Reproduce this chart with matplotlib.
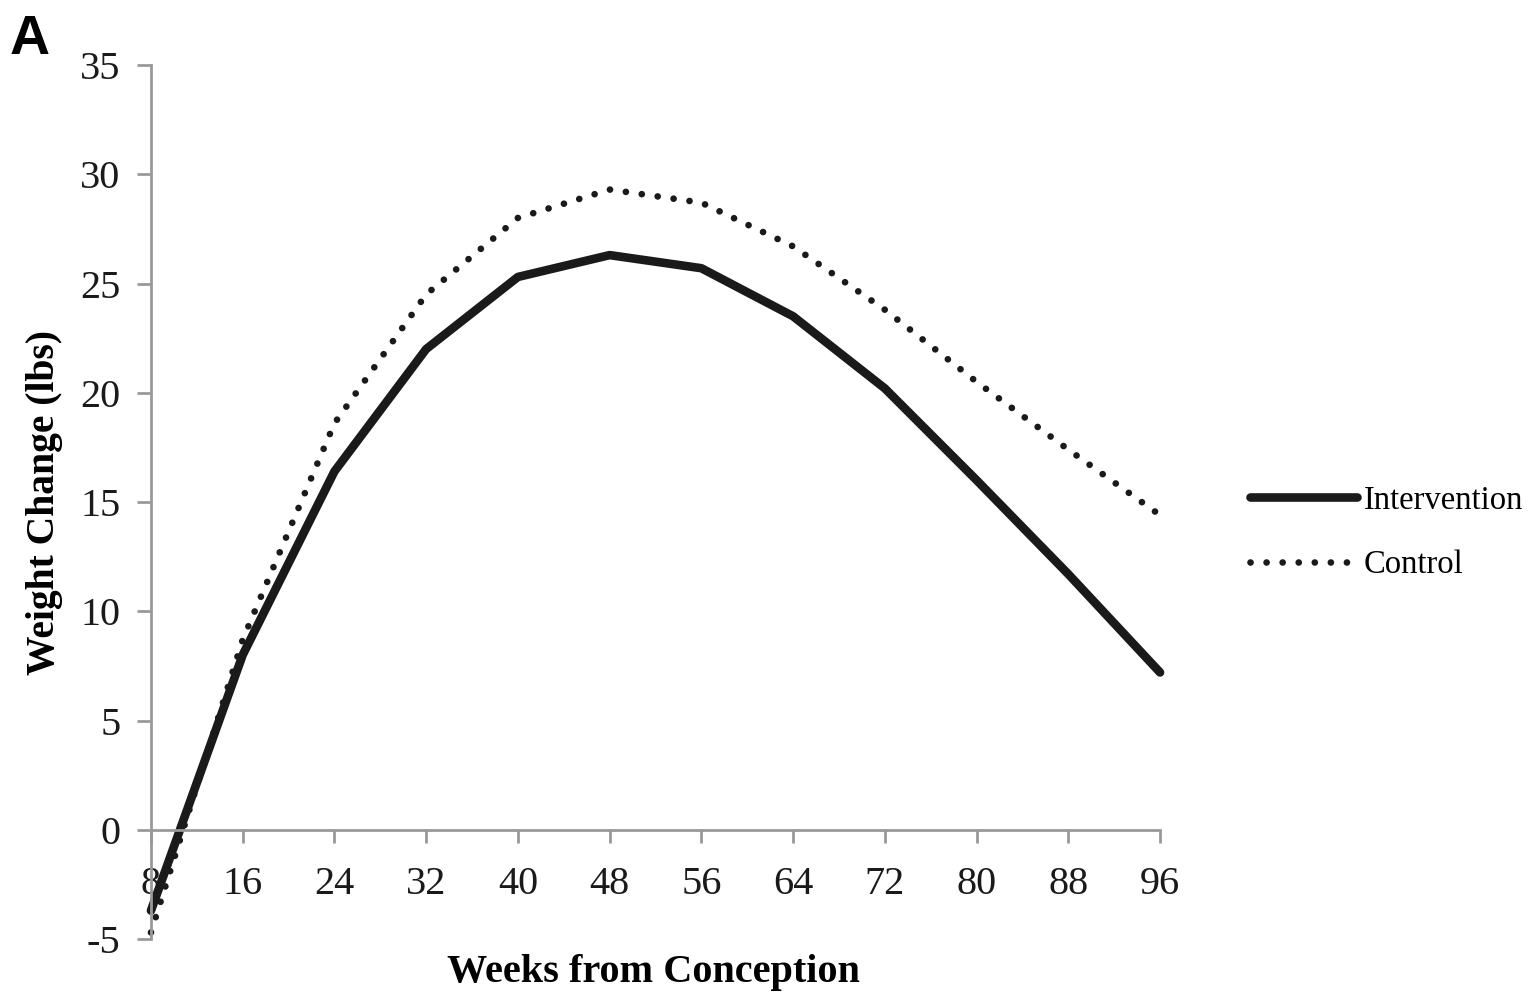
import numpy as np
import matplotlib.pyplot as plt

weeks = ['8', '16', '24', '32', '40', '48', '56', '64', '72', '80', '88', '96']
intervention = [-3.7, 8.0, 16.4, 22.0, 25.3, 26.3, 25.7, 23.5, 20.2, 16.0, 11.7, 7.2]
control = [-4.7, 8.7, 18.6, 24.5, 28.0, 29.3, 28.7, 26.7, 23.8, 20.5, 17.4, 14.4]

plt.rcParams['font.family'] = ['Liberation Serif', 'DejaVu Serif']
plt.rcParams['axes.unicode_minus'] = False

fig = plt.figure(figsize=(15.31, 9.94), dpi=100)
ax = fig.add_axes([0.0986, 0.0553, 0.6591, 0.8793])

x = np.arange(len(weeks))
ax.plot(x, intervention, color='#1a1a1a', lw=6.2, solid_capstyle='round',
        solid_joinstyle='round', label='Intervention', clip_on=False)
ax.plot(x, control, color='#1a1a1a', lw=4.8, linestyle=(0, (0.01, 2.4)),
        dash_capstyle='round', label='Control', clip_on=False)

ax.set_xlim(0, len(weeks) - 1)
ax.set_ylim(-5, 35)
ax.set_yticks(np.arange(-5, 36, 5))
ax.set_xticks(x)
ax.set_xticklabels(weeks)

for s in ['top', 'right']:
    ax.spines[s].set_visible(False)
ax.spines['bottom'].set_position(('data', 0))
ax.spines['bottom'].set_color('#999999')
ax.spines['left'].set_color('#999999')
ax.spines['bottom'].set_linewidth(2)
ax.spines['left'].set_linewidth(2)

ax.tick_params(axis='y', direction='out', length=10, width=2, color='#999999',
               labelsize=29, pad=12, labelcolor='#1a1a1a')
ax.tick_params(axis='x', direction='out', length=9, width=2, color='#999999',
               labelsize=29, pad=17, labelcolor='#1a1a1a')

ax.set_ylabel('Weight Change (lbs)', fontsize=28.5, fontweight='bold', labelpad=12)
fig.text(0.427, 0.022, 'Weeks from Conception', fontsize=29, fontweight='bold',
         ha='center', va='center')

fig.text(0.006, 0.96, 'A', fontsize=40, fontweight='bold', family='Liberation Sans',
         ha='left', va='center')

ax.legend(loc='center left', bbox_to_anchor=(0.797, 0.464), bbox_transform=fig.transFigure,
          frameon=False, fontsize=23.5, handlelength=3.3, handletextpad=0.2,
          labelspacing=1.05)

fig.savefig('out.png', dpi=100)
